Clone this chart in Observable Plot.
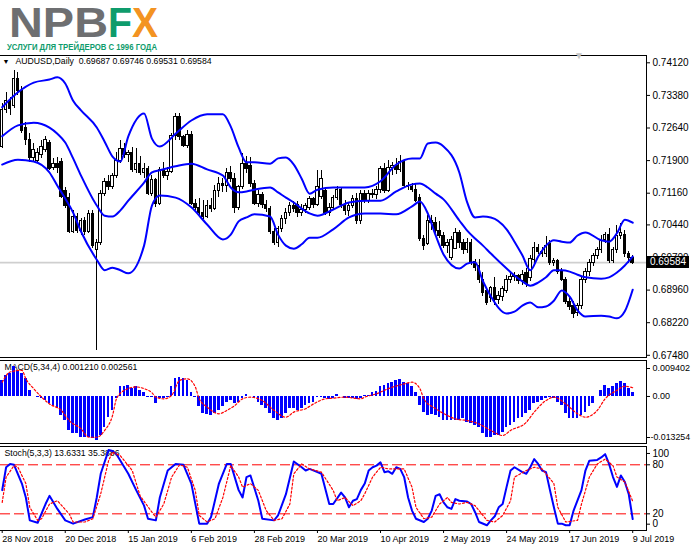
<!DOCTYPE html>
<html><head><meta charset="utf-8">
<script src="https://cdn.jsdelivr.net/npm/d3@7"></script>
<script src="https://cdn.jsdelivr.net/npm/@observablehq/plot@0.6"></script>
<style>
body{margin:0;background:#fff;}
#wrap{position:relative;width:691px;height:549px;overflow:hidden;background:#fff;font-family:"Liberation Sans",Arial,sans-serif;}
.panel{position:absolute;left:0;}
#pricebox{position:absolute;left:647px;width:42px;height:12px;background:#000;color:#fff;font-size:10px;line-height:12px;text-align:center;}
#shift{position:absolute;left:574px;top:50px;color:#c4c4c4;font-size:10px;}
</style></head><body>
<div id="wrap">
<svg width="691" height="52" style="position:absolute;left:0;top:0">
<text x="9" y="37" font-family="Liberation Sans, Arial" font-weight="bold" font-size="42" fill="#6e6f71" textLength="99" lengthAdjust="spacingAndGlyphs">NPB</text>
<text x="108" y="37" font-family="Liberation Sans, Arial" font-weight="bold" font-size="42" fill="#0e9c6c" textLength="24" lengthAdjust="spacingAndGlyphs">F</text>
<text x="132" y="37" font-family="Liberation Sans, Arial" font-weight="bold" font-size="42" fill="#f39322" textLength="26" lengthAdjust="spacingAndGlyphs">X</text>
<text x="7" y="49.5" font-family="Liberation Sans Narrow, Liberation Sans, Arial" font-weight="bold" font-size="9.5" fill="#0e9c6c" textLength="150" lengthAdjust="spacingAndGlyphs">УСЛУГИ ДЛЯ ТРЕЙДЕРОВ С 1996 ГОДА</text>
</svg>
<div id="main" class="panel" style="top:50px"></div>
<div id="macd" class="panel" style="top:355px"></div>
<div id="stoch" class="panel" style="top:441px"></div>
<div id="pricebox">0.69584</div>
<div id="shift">▼</div>
</div>
<script>
// ---- OHLC (AUDUSD daily, 28 Nov 2018 .. 9 Jul 2019) ----
const open = [
0.7220,0.7304,0.7326,0.7315,0.7376,0.7349,0.7263,0.7236,0.7195,0.7190,
0.7202,0.7213,0.7229,0.7174,0.7183,0.7186,0.7122,0.7106,0.7029,0.7061,
0.7031,0.7052,0.7029,0.7068,0.6986,0.7004,0.7115,0.7142,0.7131,0.7156,
0.7190,0.7217,0.7202,0.7208,0.7168,0.7183,0.7161,0.7172,0.7115,0.7145,
0.7092,0.7168,0.7156,0.7163,0.7245,0.7290,0.7243,0.7224,0.7247,0.7092,
0.7083,0.7072,0.7061,0.7088,0.7081,0.7122,0.7138,0.7133,0.7161,0.7149,
0.7083,0.7129,0.7183,0.7177,0.7138,0.7092,0.7111,0.7090,0.7079,0.7027,
0.7002,0.7034,0.7058,0.7072,0.7088,0.7090,0.7070,0.7077,0.7083,0.7102,
0.7090,0.7108,0.7120,0.7072,0.7083,0.7104,0.7124,0.7090,0.7075,0.7088,
0.7102,0.7052,0.7115,0.7099,0.7115,0.7111,0.7124,0.7170,0.7122,0.7174,
0.7177,0.7168,0.7186,0.7133,0.7129,0.7124,0.7106,0.7013,0.7000,0.7054,
0.7049,0.7031,0.7018,0.6995,0.6970,0.6990,0.7025,0.7004,0.6986,0.7002,
0.6959,0.6950,0.6918,0.6895,0.6877,0.6900,0.6873,0.6880,0.6895,0.6920,
0.6925,0.6927,0.6916,0.6934,0.6923,0.6964,0.6991,0.6982,0.6977,0.7000,
0.6957,0.6961,0.6938,0.6920,0.6870,0.6861,0.6843,0.6861,0.6918,0.6936,
0.6957,0.6973,0.6986,0.7009,0.7022,0.6963,0.6986,0.7018,0.7022,0.6977,
0.69687];
const high = [
0.7320,0.7345,0.7333,0.7394,0.7390,0.7358,0.7277,0.7251,0.7229,0.7217,
0.7236,0.7245,0.7236,0.7195,0.7197,0.7195,0.7129,0.7115,0.7077,0.7070,
0.7058,0.7061,0.7077,0.7077,0.7011,0.7122,0.7149,0.7156,0.7161,0.7208,
0.7236,0.7229,0.7213,0.7220,0.7217,0.7199,0.7183,0.7177,0.7156,0.7149,
0.7174,0.7186,0.7174,0.7251,0.7297,0.7297,0.7247,0.7258,0.7256,0.7102,
0.7104,0.7099,0.7099,0.7104,0.7133,0.7152,0.7149,0.7172,0.7177,0.7161,
0.7133,0.7206,0.7199,0.7197,0.7145,0.7122,0.7118,0.7099,0.7086,0.7036,
0.7040,0.7065,0.7081,0.7095,0.7097,0.7097,0.7090,0.7092,0.7108,0.7106,
0.7168,0.7168,0.7124,0.7092,0.7111,0.7131,0.7129,0.7099,0.7092,0.7111,
0.7115,0.7122,0.7122,0.7122,0.7124,0.7131,0.7177,0.7183,0.7190,0.7186,
0.7195,0.7202,0.7190,0.7140,0.7138,0.7138,0.7113,0.7020,0.7065,0.7065,
0.7061,0.7052,0.7027,0.7011,0.7018,0.7036,0.7031,0.7011,0.7013,0.7011,
0.6966,0.6966,0.6936,0.6900,0.6905,0.6925,0.6893,0.6905,0.6930,0.6936,
0.6936,0.6932,0.6941,0.6945,0.6975,0.7004,0.7000,0.6993,0.7018,0.7009,
0.6968,0.6966,0.6945,0.6925,0.6880,0.6870,0.6866,0.6927,0.6945,0.6966,
0.6979,0.6993,0.7020,0.7027,0.7036,0.6993,0.7043,0.7047,0.7031,0.6984,
0.69746];
const low = [
0.7217,0.7297,0.7292,0.7308,0.7338,0.7251,0.7224,0.7186,0.7186,0.7183,
0.7195,0.7208,0.7168,0.7168,0.7161,0.7104,0.7081,0.7024,0.7024,0.7024,
0.7020,0.7020,0.7024,0.6990,0.6759,0.6997,0.7108,0.7122,0.7124,0.7149,
0.7183,0.7195,0.7186,0.7163,0.7161,0.7156,0.7149,0.7111,0.7108,0.7083,
0.7088,0.7149,0.7145,0.7161,0.7236,0.7236,0.7220,0.7217,0.7088,0.7077,
0.7065,0.7056,0.7058,0.7072,0.7077,0.7106,0.7118,0.7118,0.7140,0.7070,
0.7077,0.7124,0.7161,0.7129,0.7088,0.7083,0.7081,0.7072,0.7022,0.6997,
0.6993,0.7027,0.7045,0.7063,0.7072,0.7061,0.7063,0.7070,0.7077,0.7081,
0.7086,0.7102,0.7065,0.7063,0.7077,0.7099,0.7081,0.7065,0.7063,0.7081,
0.7045,0.7045,0.7092,0.7092,0.7104,0.7102,0.7115,0.7115,0.7118,0.7156,
0.7158,0.7163,0.7129,0.7122,0.7118,0.7095,0.7006,0.6986,0.6997,0.7031,
0.7025,0.7013,0.6990,0.6979,0.6963,0.6988,0.6990,0.6977,0.6979,0.6952,
0.6938,0.6911,0.6882,0.6861,0.6868,0.6861,0.6864,0.6870,0.6889,0.6911,
0.6916,0.6909,0.6907,0.6902,0.6916,0.6957,0.6977,0.6970,0.6970,0.6952,
0.6950,0.6932,0.6916,0.6864,0.6850,0.6832,0.6836,0.6852,0.6911,0.6927,
0.6950,0.6966,0.6979,0.7002,0.6957,0.6957,0.6979,0.7011,0.6970,0.6957,
0.69531];
const close = [
0.7304,0.7326,0.7308,0.7376,0.7349,0.7258,0.7236,0.7195,0.7213,0.7208,
0.7220,0.7236,0.7172,0.7183,0.7174,0.7108,0.7088,0.7027,0.7061,0.7031,
0.7052,0.7029,0.7068,0.6995,0.7004,0.7115,0.7142,0.7131,0.7156,0.7190,
0.7217,0.7202,0.7208,0.7168,0.7183,0.7161,0.7172,0.7115,0.7145,0.7092,
0.7168,0.7156,0.7163,0.7245,0.7290,0.7243,0.7224,0.7247,0.7092,0.7083,
0.7072,0.7061,0.7088,0.7081,0.7122,0.7138,0.7133,0.7161,0.7149,0.7083,
0.7129,0.7183,0.7172,0.7138,0.7092,0.7111,0.7090,0.7079,0.7027,0.7002,
0.7034,0.7058,0.7072,0.7088,0.7081,0.7070,0.7077,0.7088,0.7102,0.7090,
0.7129,0.7149,0.7072,0.7083,0.7104,0.7124,0.7090,0.7075,0.7088,0.7102,
0.7052,0.7115,0.7099,0.7115,0.7111,0.7124,0.7170,0.7122,0.7174,0.7177,
0.7168,0.7186,0.7133,0.7129,0.7124,0.7099,0.7013,0.6997,0.7054,0.7049,
0.7031,0.7018,0.6995,0.7004,0.7009,0.7025,0.7004,0.6986,0.7002,0.6959,
0.6947,0.6918,0.6889,0.6866,0.6900,0.6873,0.6882,0.6898,0.6920,0.6925,
0.6927,0.6916,0.6930,0.6909,0.6966,0.6991,0.6982,0.6977,0.6997,0.6957,
0.6961,0.6938,0.6920,0.6870,0.6857,0.6841,0.6861,0.6918,0.6936,0.6957,
0.6973,0.6986,0.7009,0.7020,0.6963,0.6986,0.7018,0.7025,0.6977,0.6969,
0.69584];

// ---- Bollinger Bands (20,2) ----
const bbIdx = [0,4,8,12,14,16,18,20,24,26,28,30,32,36,38,40,44,48,52,56,58,60,62,64,68,70,72,74,76,78,80,84,88,92,96,100,104,106,108,110,112,116,118,120,122,124,128,130,132,134,136,138,140,142,144,146,148,152,154,156,158,160];
const bbUpper = [0.7311,0.7345,0.7367,0.7374,0.7379,0.7365,0.7326,0.7304,0.7265,0.7233,0.7199,0.7188,0.7245,0.7297,0.7240,0.7222,0.7251,0.7281,0.7295,0.7295,0.7267,0.7220,0.7186,0.7186,0.7183,0.7195,0.7197,0.7181,0.7149,0.7115,0.7124,0.7129,0.7129,0.7129,0.7143,0.7181,0.7195,0.7195,0.7229,0.7231,0.7222,0.7163,0.7095,0.7061,0.7063,0.7061,0.7034,0.7006,0.6975,0.6941,0.6972,0.6997,0.7009,0.7006,0.7004,0.7020,0.7027,0.7009,0.7006,0.7025,0.7056,0.7049];
const bbMiddle = [0.7245,0.7270,0.7276,0.7265,0.7251,0.7231,0.7195,0.7156,0.7088,0.7065,0.7063,0.7077,0.7099,0.7140,0.7163,0.7168,0.7177,0.7183,0.7170,0.7156,0.7129,0.7118,0.7120,0.7124,0.7129,0.7118,0.7106,0.7095,0.7081,0.7070,0.7065,0.7079,0.7095,0.7099,0.7099,0.7120,0.7136,0.7138,0.7129,0.7115,0.7102,0.7054,0.7031,0.7013,0.6997,0.6979,0.6945,0.6929,0.6916,0.6906,0.6913,0.6925,0.6941,0.6941,0.6938,0.6931,0.6925,0.6922,0.6925,0.6936,0.6952,0.6972];
const bbLower = [0.7181,0.7192,0.7188,0.7163,0.7133,0.7104,0.7072,0.7029,0.6965,0.6941,0.6947,0.6941,0.6934,0.6997,0.7088,0.7111,0.7106,0.7084,0.7045,0.7011,0.7022,0.7052,0.7061,0.7068,0.7063,0.7022,0.6997,0.6990,0.7000,0.7015,0.7015,0.7034,0.7061,0.7070,0.7070,0.7068,0.7086,0.7097,0.7070,0.7020,0.6977,0.6945,0.6956,0.6959,0.6916,0.6882,0.6843,0.6847,0.6861,0.6868,0.6857,0.6859,0.6872,0.6895,0.6881,0.6850,0.6836,0.6838,0.6836,0.6832,0.6848,0.6897];

// ---- MACD(5,34,4) ----
const macdHist = [
0.0047,0.0062,0.0067,0.0087,0.0077,0.0067,0.0052,0.0018,0.0001,-0.0004,
-0.0007,-0.0012,-0.0022,-0.0031,-0.0036,-0.0056,-0.0071,-0.0100,-0.0110,-0.0110,
-0.0120,-0.0120,-0.0120,-0.0125,-0.0130,-0.0115,-0.0090,-0.0061,-0.0041,-0.0007,
0.0028,0.0028,0.0032,0.0023,0.0028,0.0018,0.0013,-0.0002,-0.0002,-0.0022,
-0.0007,-0.0007,-0.0002,0.0028,0.0052,0.0057,0.0052,0.0047,0.0013,-0.0002,
-0.0031,-0.0051,-0.0054,-0.0056,-0.0051,-0.0041,-0.0031,-0.0017,-0.0012,-0.0022,
-0.0017,-0.0007,0.0005,0.0001,-0.0007,-0.0017,-0.0027,-0.0036,-0.0051,-0.0066,
-0.0071,-0.0066,-0.0051,-0.0036,-0.0036,-0.0041,-0.0036,-0.0027,-0.0022,-0.0017,
-0.0002,-0.0002,-0.0005,-0.0009,-0.0005,0.0005,0.0000,-0.0005,-0.0007,-0.0005,
-0.0009,-0.0005,0.0003,0.0003,0.0011,0.0015,0.0028,0.0032,0.0037,0.0042,
0.0047,0.0050,0.0042,0.0037,0.0028,0.0011,-0.0027,-0.0046,-0.0056,-0.0054,
-0.0056,-0.0061,-0.0071,-0.0071,-0.0071,-0.0071,-0.0071,-0.0066,-0.0076,-0.0081,
-0.0086,-0.0090,-0.0110,-0.0120,-0.0120,-0.0115,-0.0115,-0.0105,-0.0090,-0.0086,
-0.0076,-0.0066,-0.0061,-0.0051,-0.0041,-0.0022,-0.0017,-0.0012,-0.0007,-0.0002,
-0.0007,-0.0017,-0.0027,-0.0051,-0.0066,-0.0066,-0.0066,-0.0056,-0.0046,-0.0031,
-0.0022,0.0001,0.0018,0.0032,0.0023,0.0028,0.0037,0.0044,0.0037,0.0023,
0.00121];
const macdSigIdx = [0,2,5,6,8,10,12,15,17,20,22,24,26,28,29,31,34,36,38,39,41,43,45,47,49,50,52,55,57,59,61,63,66,69,72,74,77,79,82,84,87,91,92,95,98,102,104,106,107,110,113,115,118,121,124,127,129,133,135,138,140,143,146,148,151,153,156,158,160];
const macdSig = [0.0042,0.0072,0.0077,0.0052,0.0023,-0.0002,-0.0022,-0.0041,-0.0071,-0.0095,-0.0120,-0.0120,-0.0100,-0.0056,-0.0007,0.0018,0.0028,0.0023,0.0011,-0.0002,-0.0007,0.0003,0.0047,0.0052,0.0028,-0.0007,-0.0031,-0.0051,-0.0041,-0.0027,-0.0007,-0.0002,-0.0012,-0.0041,-0.0061,-0.0046,-0.0036,-0.0022,-0.0007,-0.0005,-0.0002,-0.0007,-0.0002,0.0008,0.0023,0.0037,0.0042,0.0023,-0.0007,-0.0036,-0.0056,-0.0066,-0.0071,-0.0081,-0.0100,-0.0115,-0.0100,-0.0076,-0.0046,-0.0012,-0.0002,-0.0022,-0.0051,-0.0061,-0.0041,-0.0007,0.0018,0.0030,0.002561];

// ---- Stochastic(5,3,3) ----
const stMainIdx = [0,1,2,3,5,6,7,9,11,12,14,16,18,21,23,24,25,27,28,29,32,34,36,37,39,40,42,44,46,48,50,52,53,55,57,58,60,61,62,63,65,66,69,70,72,74,76,77,78,80,81,83,84,86,87,88,89,90,91,92,93,94,95,96,97,98,99,100,101,102,103,104,105,107,108,109,110,111,112,113,114,115,116,118,119,120,121,123,124,125,126,127,128,129,130,132,133,134,135,136,137,138,139,140,141,142,143,144,145,147,148,149,151,152,153,154,155,156,157,158,159,160];
const stMain = [49,77,81,80,57,40,12,9,32,42,26,12,8,13,16,40,69,98,97,93,69,49,30,14,12,40,73,81,80,57,8,8,16,57,81,81,49,40,65,67,36,14,12,18,44,84,77,73,75,71,69,32,32,46,40,28,36,38,49,57,73,77,79,83,71,72,69,77,75,65,40,24,14,10,14,24,42,44,34,28,26,38,36,35,32,22,10,6,12,17,28,32,53,73,77,71,69,77,87,81,73,71,49,28,8,8,6,6,24,49,73,85,86,89,93,81,65,53,67,59,44,13.6331];
const stSigIdx = [0,1,3,4,6,7,9,10,12,14,17,18,21,23,25,27,28,30,33,35,38,39,41,43,45,47,49,50,52,54,56,58,60,61,63,65,67,69,71,73,74,76,78,81,84,85,87,89,91,92,94,96,98,100,102,104,105,107,109,111,113,114,116,118,120,123,125,127,129,130,133,135,137,140,141,143,146,147,149,151,153,155,156,158,160];
const stSig = [34,65,79,77,57,28,12,14,32,36,20,10,10,14,44.5,85,95.5,91,73,42,22,16,32,65,80,77,48.6,18,10,14,40,79,65,52.6,57,48.6,24,12,14,32,69,81,75,71,48.6,36,40,30,36,44.5,65,77,75,75,75,52.6,28,14,16,32,40,34,32,34,30,12,10,18,36,65,73,77,75,57,28,10,12,32,65,81,87,79,65,59,35.3886];

// ---- axis labels ----
const priceTicks = [0.74120,0.73380,0.72640,0.71900,0.71160,0.70440,0.69700,0.68960,0.68220,0.67480];
const dateIdx = [0,16,32,48,64,80,96,112,128,144,160];
const dateLabels = ["28 Nov 2018","20 Dec 2018","15 Jan 2019","6 Feb 2019","28 Feb 2019","20 Mar 2019","10 Apr 2019","2 May 2019","24 May 2019","17 Jun 2019","9 Jul 2019"];
const lastPrice = 0.69584;
const titleMain = "AUDUSD,Daily  0.69687 0.69746 0.69531 0.69584";
const titleMacd = "MACD(5,34,4) 0.001210 0.002561";
const titleStoch = "Stoch(5,3,3) 13.6331 35.3886";

// ---- build ----
const bars = open.map((o,i)=>({i, o, h:high[i], l:low[i], c:close[i]}));
const bb = bbIdx.map((i,k)=>({i, u:bbUpper[k], m:bbMiddle[k], l:bbLower[k]}));
const hist = macdHist.map((v,i)=>({i, v}));
const sig = macdSigIdx.map((i,k)=>({i, v:macdSig[k]}));
const stM = stMainIdx.map((i,k)=>({i, v:stMain[k]}));
const stS = stSigIdx.map((i,k)=>({i, v:stSig[k]}));
const dateMap = new Map(dateIdx.map((d,k)=>[d,dateLabels[k]]));

const font = "'Liberation Sans', Arial, sans-serif";
const common = {
  width: 691, marginLeft: 0, marginRight: 45,
  x: {domain: [-0.43, 163.5], axis: null, label: null},
  style: {background: "transparent", fontFamily: font, fontSize: "9px", overflow: "visible", color: "#000"}
};
const frames = () => [Plot.frame({anchor:"top", stroke:"#000"}), Plot.frame({anchor:"right", stroke:"#000"}), Plot.frame({anchor:"bottom", stroke:"#000"})];
const yAx = (opts) => Plot.axisY({anchor: "right", tickSize: 3, tickPadding: 3, label: null, ...opts});

const main = Plot.plot({
  ...common, height: 312, marginTop: 5, marginBottom: 5,
  y: {domain: [0.67430, 0.74286], label: null},
  marks: [
    Plot.ruleY([lastPrice], {stroke: "#cfcfcf", strokeWidth: 1.6}),
    Plot.text(["▼"], {frameAnchor: "top-left", dx: 2, dy: 4, fontSize: 7, fill: "#000"}),
    Plot.text([titleMain], {frameAnchor: "top-left", dx: 15, dy: 2, fontSize: 8.7, fill: "#000", textAnchor: "start"}),
    Plot.ruleX(bars, {x: "i", y1: "l", y2: "h", stroke: "#000", shapeRendering: "crispEdges"}),
    Plot.rect(bars, {x1: d => d.i - 0.32, x2: d => d.i + 0.32, y1: "o", y2: "c",
      fill: d => d.c >= d.o ? "#ffffff" : "#000000", stroke: "#000", strokeWidth: 1, shapeRendering: "crispEdges"}),
    Plot.line(bb, {x: "i", y: "u", stroke: "#0000ff", strokeWidth: 2, curve: "monotone-x"}),
    Plot.line(bb, {x: "i", y: "m", stroke: "#0000ff", strokeWidth: 2, curve: "monotone-x"}),
    Plot.line(bb, {x: "i", y: "l", stroke: "#0000ff", strokeWidth: 2, curve: "monotone-x"}),
    yAx({ticks: priceTicks, tickFormat: d => d.toFixed(5), fontSize: 10}),
    ...frames()
  ]
});
document.getElementById("main").appendChild(main);
const py = main.scale("y").apply(lastPrice);
document.getElementById("pricebox").style.top = (50 + py - 6) + "px";

const macd = Plot.plot({
  ...common, height: 93, marginTop: 5, marginBottom: 5,
  y: {domain: [-0.01384, 0.01058], label: null},
  marks: [
    Plot.text([titleMacd], {frameAnchor: "top-left", dx: 4, dy: 3, fontSize: 8.7, fill: "#000", textAnchor: "start"}),
    Plot.rect(hist, {x1: d => d.i - 0.34, x2: d => d.i + 0.34, y1: 0, y2: "v", fill: "#0000ff", shapeRendering: "crispEdges"}),
    Plot.line(sig, {x: "i", y: "v", stroke: "#ff0000", strokeWidth: 1.2, strokeDasharray: "2,2", curve: "monotone-x"}),
    yAx({ticks: [0.009402], tickFormat: () => "0.009402", dy: 4, fontSize: 9}),
    yAx({ticks: [0], tickFormat: () => "0.00", fontSize: 9}),
    yAx({ticks: [-0.013254], tickFormat: () => "-0.013254", dy: -4, fontSize: 8.8, tickPadding: 1}),
    ...frames()
  ]
});
document.getElementById("macd").appendChild(macd);

const stoch = Plot.plot({
  ...common, height: 108, marginTop: 5, marginBottom: 19,
  y: {domain: [-0.4, 102.4], label: null},
  marks: [
    Plot.text([titleStoch], {frameAnchor: "top-left", dx: 4, dy: 3, fontSize: 8.7, fill: "#000", textAnchor: "start"}),
    Plot.ruleY([20, 80], {stroke: "#ff0000", strokeDasharray: "10,4", strokeWidth: 1}),
    Plot.line(stM, {x: "i", y: "v", stroke: "#0000ff", strokeWidth: 2}),
    Plot.line(stS, {x: "i", y: "v", stroke: "#ff0000", strokeWidth: 1.2, strokeDasharray: "2,2"}),
    yAx({ticks: [100], tickFormat: () => "100", dy: 5, fontSize: 10}),
    yAx({ticks: [80, 20], tickFormat: d => String(d), fontSize: 10}),
    yAx({ticks: [0], tickFormat: () => "0", dy: -6, fontSize: 10}),
    Plot.axisX({anchor: "bottom", ticks: dateIdx, tickFormat: d => dateMap.get(d), tickSize: 3, tickPadding: 2, textAnchor: "start", fontSize: 9, label: null}),
    ...frames()
  ]
});
document.getElementById("stoch").appendChild(stoch);
</script>
</body></html>
